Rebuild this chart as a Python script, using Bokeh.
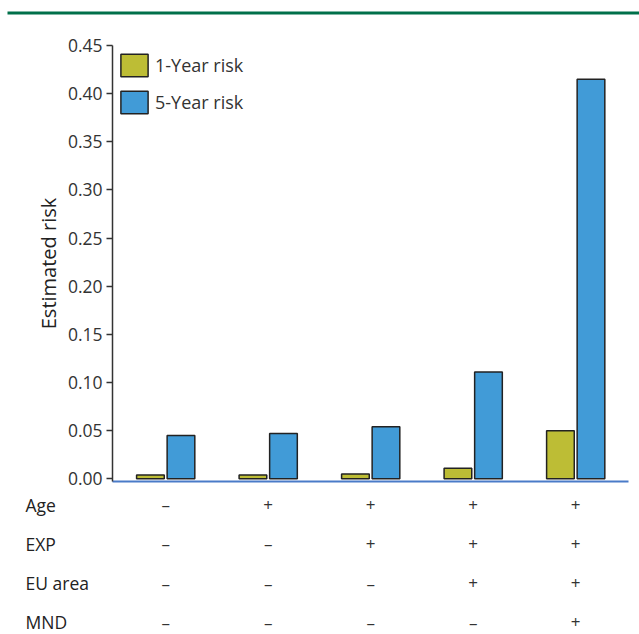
import numpy as np
from bokeh.plotting import figure
from bokeh.layouts import column
from bokeh.models import ColumnDataSource, Range1d, FixedTicker, NumeralTickFormatter, Legend, LegendItem
from bokeh.core.properties import value
from bokeh.transform import dodge
from bokeh.embed import file_html
from bokeh.resources import INLINE

# ---- data ----
groups = [0, 1, 2, 3, 4]
risk_1y = [0.004, 0.004, 0.005, 0.011, 0.050]
risk_5y = [0.045, 0.047, 0.054, 0.111, 0.415]
series_names = ["1-Year risk", "5-Year risk"]
y_ticks = [0.00, 0.05, 0.10, 0.15, 0.20, 0.25, 0.30, 0.35, 0.40, 0.45]
row_names = ["Age", "EXP", "EU area", "MND"]
row_signs = [
    ["–", "+", "+", "+", "+"],
    ["–", "–", "+", "+", "+"],
    ["–", "–", "–", "+", "+"],
    ["–", "–", "–", "–", "+"],
]

FONT = "Open Sans"
YELLOW = "#BDBD35"
BLUE = "#419BD7"
EDGE = "#222222"
TXT = "#333333"

# ---- green rule on top ----
top = figure(width=639, height=20, toolbar_location=None, output_backend="svg",
             x_range=Range1d(0, 1), y_range=Range1d(0, 1),
             min_border_left=7, min_border_right=0, min_border_top=11, min_border_bottom=6)
top.frame_align = False
top.axis.visible = False
top.grid.visible = False
top.outline_line_color = None
top.background_fill_color = "#00704A"
top.border_fill_color = "white"

# ---- bar chart ----
px_per_unit = 102.5
x0 = -0.519
x1 = 4.515
p = figure(width=639, height=470, toolbar_location=None, output_backend="svg",
           x_range=Range1d(x0, x1), y_range=Range1d(-0.0028, 0.45),
           min_border_left=112, min_border_right=11, min_border_top=25, min_border_bottom=9)
p.frame_align = False
p.grid.visible = False
p.outline_line_color = None

src = ColumnDataSource(dict(x=groups, r1=risk_1y, r5=risk_5y))
off = 0.149
w = 0.27
b1 = p.vbar(x=dodge("x", -off), top="r1", bottom=0, width=w, source=src,
            fill_color=YELLOW, line_color=EDGE, line_width=1.5)
b2 = p.vbar(x=dodge("x", off), top="r5", bottom=0, width=w, source=src,
            fill_color=BLUE, line_color=EDGE, line_width=1.5)

legend = Legend(items=[LegendItem(label=series_names[0], renderers=[b1]),
                       LegendItem(label=series_names[1], renderers=[b2])],
                location=(5, 365))
legend.margin = 0
legend.padding = 0
legend.spacing = 9
legend.glyph_width = 34
legend.glyph_height = 28
legend.label_height = 28
legend.label_standoff = 4
legend.label_text_font = FONT
legend.label_text_font_size = "18px"
legend.label_text_color = TXT
legend.label_text_baseline = "middle"
legend.border_line_color = None
legend.background_fill_alpha = 0
p.add_layout(legend)

p.yaxis.ticker = FixedTicker(ticks=y_ticks)
p.yaxis.formatter = NumeralTickFormatter(format="0.00")
p.yaxis.axis_label = "Estimated risk"
p.yaxis.axis_label_text_font = FONT
p.yaxis.axis_label_text_font_style = "normal"
p.yaxis.axis_label_text_font_size = "20px"
p.yaxis.axis_label_text_color = "#222222"
p.yaxis.axis_label_standoff = 3
p.yaxis.major_label_text_font = FONT
p.yaxis.major_label_text_font_size = "17.5px"
p.yaxis.major_label_text_color = TXT
p.yaxis.major_label_standoff = 4
p.yaxis.major_tick_out = 6
p.yaxis.major_tick_in = 0
p.yaxis.minor_tick_line_color = None
p.yaxis.axis_line_color = "#333333"
p.yaxis.axis_line_width = 1.5
p.yaxis.major_tick_line_color = "#333333"
p.yaxis.major_tick_line_width = 1.5

p.xaxis.ticker = FixedTicker(ticks=[])
p.xaxis.major_label_text_font_size = "0px"
p.xaxis.major_tick_line_color = None
p.xaxis.minor_tick_line_color = None
p.xaxis.major_label_standoff = 0
p.xaxis.axis_line_color = "#4A7BC8"
p.xaxis.axis_line_width = 2

# ---- factor table below ----
left_px = 112
right_px = 11
tx0 = x0 - left_px / px_per_unit
tx1 = x1 + right_px / px_per_unit
row_px = 39.3
ty_top = -14 / row_px
ty_bot = ty_top + 144 / row_px
t = figure(width=639, height=144, toolbar_location=None, output_backend="svg",
           x_range=Range1d(tx0, tx1), y_range=Range1d(ty_bot, ty_top),
           min_border_left=0, min_border_right=0, min_border_top=0, min_border_bottom=0)
t.frame_align = False
t.axis.visible = False
t.grid.visible = False
t.outline_line_color = None

label_x = tx0 + 25 / px_per_unit
t.text(x=[label_x] * len(row_names), y=list(range(len(row_names))), text=row_names,
       text_font=value(FONT), text_font_size="17.5px", text_color="#222222",
       text_align="left", text_baseline="middle")

sx, sy, st = [], [], []
for i, signs in enumerate(row_signs):
    for g, s in zip(groups, signs):
        sx.append(g)
        sy.append(i)
        st.append(s)
t.text(x=sx, y=sy, text=st, text_font=value(FONT), text_font_size="17px",
       text_color="#333333", text_align="center", text_baseline="middle")

layout = column(top, p, t, spacing=0)
open("out.html", "w").write(file_html(layout, INLINE))
